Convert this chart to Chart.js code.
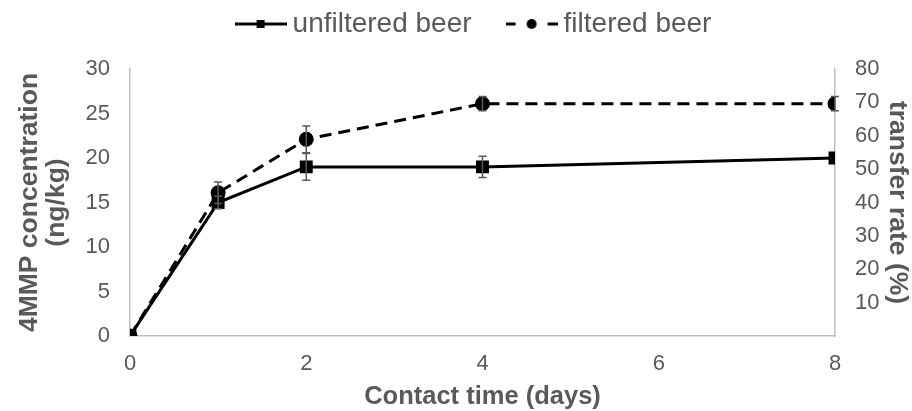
<!DOCTYPE html>
<html>
<head>
<meta charset="utf-8">
<script src="https://cdn.jsdelivr.net/npm/chart.js@4"></script>
<style>
  html, body { margin: 0; padding: 0; background: #fff; }
  #wrap { width: 912px; height: 411px; }
</style>
</head>
<body>
<div id="wrap"><canvas id="chart"></canvas></div>
<script>
// data
const days = [0, 1, 2, 4, 8];
const unfiltered = [0, 15, 19, 19, 20];
const unfilteredErr = [0, 0.7, 1.5, 1.2, 0];
const filtered = [0, 16.1, 22.1, 26.1, 26.1];
const filteredErr = [0, 1.2, 1.5, 0.8, 0.8];
const xTicks = [0, 2, 4, 6, 8];

const grey = '#595959';
const axisGrey = '#bfbfbf';
const fontFamily = '"Liberation Sans", Arial, sans-serif';

// legend swatch: line with marker in the middle
function swatch(dashed) {
    const c = document.createElement('canvas');
    c.width = 52; c.height = 14;
    const g = c.getContext('2d');
    g.strokeStyle = '#000';
    g.fillStyle = '#000';
    g.lineWidth = 3;
    g.beginPath();
    if (dashed) {
        g.moveTo(0, 7); g.lineTo(10, 7);
        g.moveTo(42, 7); g.lineTo(52, 7);
        g.stroke();
        g.beginPath(); g.arc(26, 7, 5, 0, Math.PI * 2); g.fill();
    } else {
        g.moveTo(0, 7); g.lineTo(52, 7);
        g.stroke();
        g.fillRect(22, 3, 8, 8);
    }
    return c;
}

const errorBars = {
    id: 'errorBars',
    beforeLayout(chart) {
        // make the legend block reach down to the top of the plot
        const lg = chart.legend;
        if (lg && !lg._tall) {
            const fit = lg.fit.bind(lg);
            lg.fit = function () { fit(); this.height = 101; };
            lg._tall = true;
        }
    },
    afterLayout(chart) {
        // legend sits a bit right of the canvas centre
        if (chart.legend) chart.legend.left += 42;
    },
    afterDatasetsDraw(chart) {
        const ctx = chart.ctx;
        const xs = chart.scales.x, ys = chart.scales.y;
        ctx.save();
        ctx.strokeStyle = grey;
        ctx.lineWidth = 1.5;
        chart.data.datasets.forEach(ds => {
            ds.data.forEach((p, i) => {
                const e = ds.errors[i];
                if (!e) return;
                const px = xs.getPixelForValue(p.x);
                const top = ys.getPixelForValue(p.y + e);
                const bot = ys.getPixelForValue(p.y - e);
                ctx.beginPath();
                ctx.moveTo(px, top); ctx.lineTo(px, bot);
                ctx.moveTo(px - 4, top); ctx.lineTo(px + 4, top);
                ctx.moveTo(px - 4, bot); ctx.lineTo(px + 4, bot);
                ctx.stroke();
            });
        });
        ctx.restore();
    }
};

const ctx = document.getElementById('chart').getContext('2d');
new Chart(ctx, {
    type: 'line',
    data: {
        datasets: [{
            label: 'unfiltered beer',
            data: days.map((d, i) => ({ x: d, y: unfiltered[i] })),
            errors: unfilteredErr,
            borderColor: '#000',
            backgroundColor: '#000',
            borderWidth: 3,
            pointStyle: 'rect',
            pointRadius: 7,
            pointHoverRadius: 7,
            tension: 0
        }, {
            label: 'filtered beer',
            data: days.map((d, i) => ({ x: d, y: filtered[i] })),
            errors: filteredErr,
            borderColor: '#000',
            backgroundColor: '#000',
            borderWidth: 3,
            borderDash: [12, 7],
            pointStyle: 'circle',
            pointRadius: 6,
            pointHoverRadius: 6,
            tension: 0
        }]
    },
    options: {
        responsive: true,
        maintainAspectRatio: false,
        animation: false,
        layout: { padding: { top: -32, left: 0, right: 0, bottom: 0 } },
        plugins: {
            tooltip: { enabled: false },
            legend: {
                display: true,
                position: 'top',
                labels: {
                    usePointStyle: true,
                    pointStyleWidth: 36,
                    color: grey,
                    font: { family: fontFamily, size: 28 },
                    padding: 42,
                    generateLabels: chart => chart.data.datasets.map((ds, i) => ({
                        text: ds.label,
                        pointStyle: swatch(i === 1),
                        fontColor: grey,
                        datasetIndex: i,
                        lineWidth: 0
                    }))
                }
            }
        },
        scales: {
            x: {
                type: 'linear',
                min: 0,
                max: 8,
                afterBuildTicks: s => { s.ticks = xTicks.map(v => ({ value: v })); },
                grid: { display: false, drawTicks: false },
                border: { color: axisGrey, width: 1.5 },
                ticks: { color: grey, font: { family: fontFamily, size: 22 }, padding: 15 },
                title: {
                    display: true,
                    text: 'Contact time (days)',
                    color: grey,
                    font: { family: fontFamily, size: 25.5, weight: 'bold', lineHeight: 1.08 },
                    padding: { top: 0, bottom: 0 }
                },
                afterFit: s => { s.height = 75; }
            },
            y: {
                position: 'left',
                min: 0,
                max: 30,
                ticks: { stepSize: 5, color: grey, font: { family: fontFamily, size: 22 }, padding: 20 },
                grid: { display: false, drawTicks: false },
                border: { color: axisGrey, width: 1.5 },
                title: {
                    display: true,
                    text: ['4MMP concentration', '(ng/kg)'],
                    color: grey,
                    font: { family: fontFamily, size: 26.5, weight: 'bold', lineHeight: 1.02 },
                    padding: { top: 16.5, bottom: 0 }
                },
                afterFit: s => { s.width = 130; }
            },
            y1: {
                position: 'right',
                min: 0,
                max: 80,
                ticks: {
                    stepSize: 10,
                    color: grey,
                    font: { family: fontFamily, size: 22 },
                    padding: 20,
                    callback: v => v === 0 ? '' : v
                },
                grid: { display: false, drawTicks: false },
                border: { color: axisGrey, width: 1.5 },
                title: {
                    display: true,
                    text: 'transfer rate (%)',
                    color: grey,
                    font: { family: fontFamily, size: 26.5, weight: 'bold', lineHeight: 1.02 },
                    padding: { top: 1.5, bottom: 0 }
                },
                afterFit: s => { s.width = 77; }
            }
        }
    },
    plugins: [errorBars]
});
</script>
</body>
</html>
